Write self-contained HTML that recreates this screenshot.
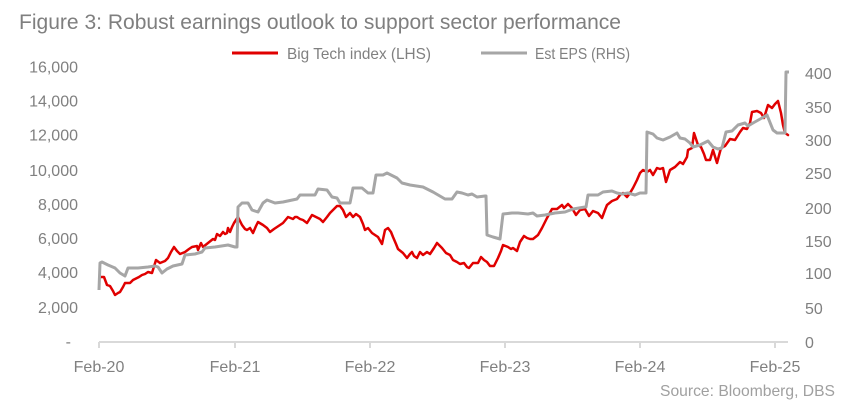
<!DOCTYPE html>
<html>
<head>
<meta charset="utf-8">
<style>
  html, body { margin: 0; padding: 0; background: #ffffff; }
  body { width: 856px; height: 415px; overflow: hidden; }
  svg { display: block; }
  text { font-family: "Liberation Sans", "DejaVu Sans", sans-serif; }
</style>
</head>
<body>
<svg width="856" height="415" viewBox="0 0 856 415" xmlns="http://www.w3.org/2000/svg">
  <rect x="0" y="0" width="856" height="415" fill="#ffffff"/>

  <!-- Title -->
  <text x="19" y="29" font-size="21" fill="#7f7f7f" textLength="602" lengthAdjust="spacingAndGlyphs">Figure 3: Robust earnings outlook to support sector performance</text>

  <!-- Legend -->
  <line x1="232" y1="53" x2="278" y2="53" stroke="#e00000" stroke-width="3"/>
  <text x="287" y="59" font-size="16" fill="#808080" textLength="144" lengthAdjust="spacingAndGlyphs">Big Tech index (LHS)</text>
  <line x1="481" y1="53" x2="527" y2="53" stroke="#a6a6a6" stroke-width="3"/>
  <text x="535" y="59" font-size="16" fill="#808080" textLength="95" lengthAdjust="spacingAndGlyphs">Est EPS (RHS)</text>

  <!-- Left axis labels -->
  <g font-size="16" fill="#808080" text-anchor="end">
    <text x="78" y="72.5">16,000</text>
    <text x="78" y="106.5">14,000</text>
    <text x="78" y="140.5">12,000</text>
    <text x="78" y="176">10,000</text>
    <text x="78" y="210">8,000</text>
    <text x="78" y="244">6,000</text>
    <text x="78" y="278">4,000</text>
    <text x="78" y="313">2,000</text>
    <text x="71" y="347">-</text>
  </g>

  <!-- Right axis labels -->
  <g font-size="16" fill="#808080" text-anchor="start">
    <text x="805" y="79">400</text>
    <text x="805" y="113">350</text>
    <text x="805" y="146">300</text>
    <text x="805" y="179">250</text>
    <text x="805" y="214">200</text>
    <text x="805" y="247">150</text>
    <text x="805" y="279">100</text>
    <text x="805" y="314">50</text>
    <text x="805" y="348">0</text>
  </g>

  <!-- X axis -->
  <line x1="99" y1="342" x2="788" y2="342" stroke="#d9d9d9" stroke-width="2"/>
  <g stroke="#d9d9d9" stroke-width="2">
    <line x1="99" y1="342" x2="99" y2="348"/>
    <line x1="235" y1="342" x2="235" y2="348"/>
    <line x1="370" y1="342" x2="370" y2="348"/>
    <line x1="505" y1="342" x2="505" y2="348"/>
    <line x1="640" y1="342" x2="640" y2="348"/>
    <line x1="775" y1="342" x2="775" y2="348"/>
  </g>
  <g font-size="16" fill="#808080" text-anchor="middle">
    <text x="99" y="372">Feb-20</text>
    <text x="235" y="372">Feb-21</text>
    <text x="370" y="372">Feb-22</text>
    <text x="505" y="372">Feb-23</text>
    <text x="640" y="372">Feb-24</text>
    <text x="775" y="372">Feb-25</text>
  </g>

  <!-- Big Tech index (red) -->
  <polyline fill="none" stroke="#e00000" stroke-width="2.5" stroke-linejoin="round" stroke-linecap="round"
    points="101,277 104,277 107,285 110,286 113,291 115,295 118,293 120,292 123,287 125,283 130,283 133,280 135,279 139,277 142,275 145,274 148,272 152,273 156,260 160,263 165,261 168,258 171,252 174,247 177,251 180,254 185,252 189,249 192,247 197,246 198,250 201,243 203,247 208,243 213,239 215,240 217,234 220,236 223,232 225,234 227,233 228,228 230,232 232,227 234,223 236,220 238,217 242,225 245,229 247,230 250,228 253,233 256,226 258,222 263,225 267,228 270,232 274,229 277,227 283,223 288,217 293,219 295,217 297,217 300,219 303,220 307,223 312,215 316,217 320,219 323,222 327,217 330,213 334,209 337,206 340,206 343,210 346,217 350,213 353,217 356,214 360,217 363,224 365,230 368,228 372,233 375,235 378,237 382,244 385,230 388,228 391,232 393,237 396,244 398,249 403,253 407,258 410,254 412,252 414,256 417,258 420,252 423,255 427,252 430,254 434,248 437,243 442,248 446,253 450,255 453,260 457,262 460,264 464,263 467,267 469,268 473,263 478,263 481,257 484,260 487,262 490,266 494,266 498,258 501,251 503,245 508,247 511,249 513,248 517,251 520,242 524,236 527,238 530,239 533,239 538,235 542,228 545,222 547,218 552,209 557,209 562,205 564,208 568,204 572,208 576,215 580,210 585,209 589,216 593,211 598,213 602,218 605,210 607,205 612,201 617,199 620,195 623,193 627,197 630,193 633,188 637,180 640,173 643,170 647,172 650,170 653,175 657,168 660,169 663,168 666,182 670,170 675,167 680,162 683,164 687,157 688,150 692,148 694,133 698,145 701,147 704,154 706,160 710,160 713,150 717,163 721,148 725,146 730,139 735,140 740,132 743,128 747,129 750,123 752,112 757,111 761,113 764,118 768,105 772,108 775,104 778,101 781,113 783,125 785,133 788,135"/>

  <!-- Est EPS (gray) -->
  <polyline fill="none" stroke="#a6a6a6" stroke-width="3" stroke-linejoin="round"
    points="99,290 100,263 102,262 108,265 115,268 120,273 125,276 128,268 138,268 148,267 155,266 158,267 162,273 167,269 173,266 182,264 185,255 195,254 202,252 205,248 215,247 228,245 235,247 237,247 238,207 242,203 248,203 252,210 258,212 263,203 267,200 275,203 283,202 297,199 300,195 315,195 318,189 327,190 332,197 337,198 340,203 350,203 353,188 362,188 368,193 373,193 376,175 383,175 387,173 397,178 402,183 410,185 423,187 433,192 445,199 452,199 457,192 462,193 468,195 472,194 477,197 485,196 486,196 487,235 493,237 500,239 503,214 512,213 518,213 528,214 533,213 537,216 545,215 555,213 565,212 573,209 585,207 586,207 588,195 598,195 603,192 612,191 617,193 622,194 628,193 635,195 640,193 646,193 647,132 653,134 657,138 663,140 670,137 677,133 680,138 685,139 690,143 693,147 700,145 708,141 713,147 718,149 722,148 726,132 732,131 738,125 745,123 748,126 753,123 762,118 767,115 773,130 777,133 785,133 786,72 789,72"/>

  <!-- Source -->
  <text x="660" y="396" font-size="16" fill="#a0a0a0" textLength="175" lengthAdjust="spacingAndGlyphs">Source: Bloomberg, DBS</text>
</svg>
</body>
</html>
